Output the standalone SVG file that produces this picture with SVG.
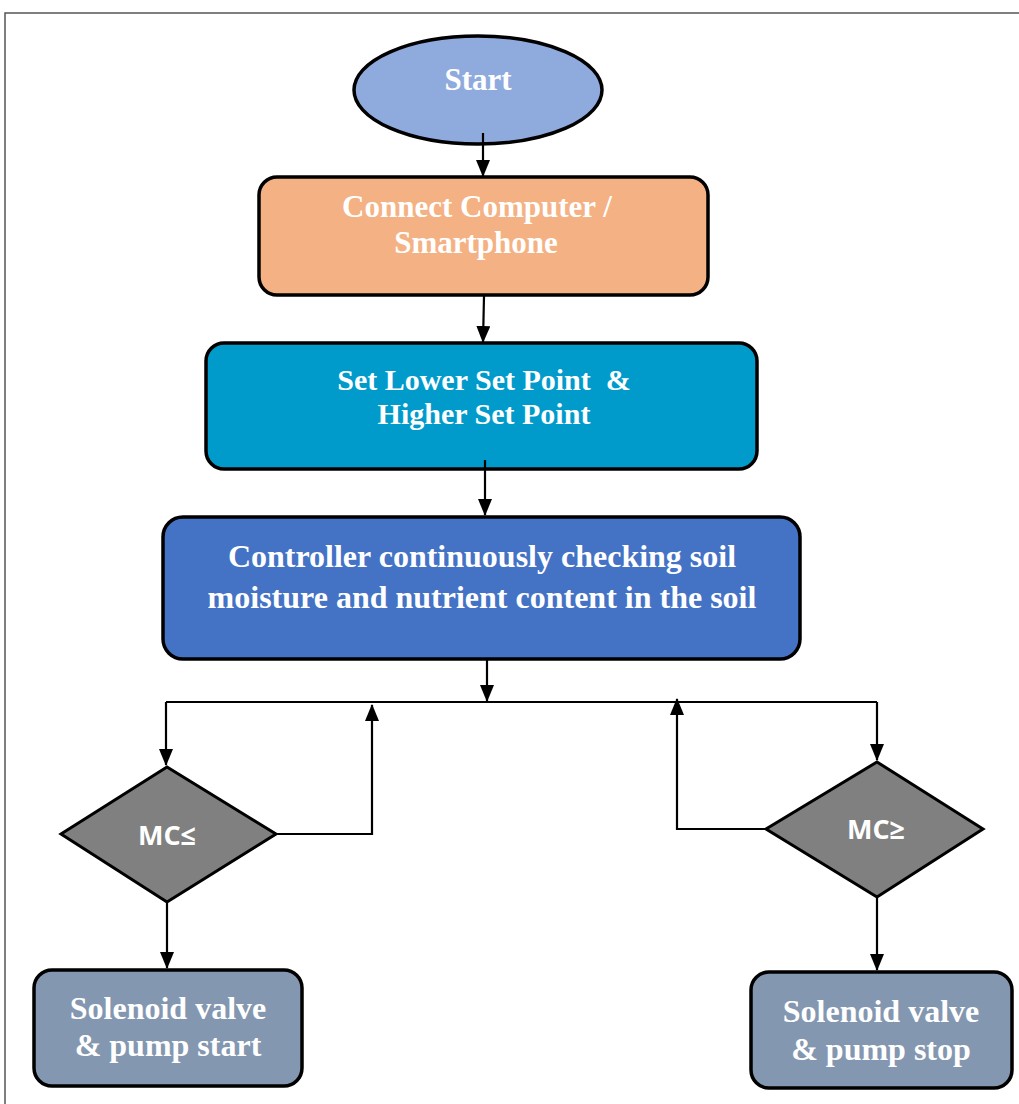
<svg xmlns="http://www.w3.org/2000/svg" width="1019" height="1104" viewBox="0 0 1019 1104">
<defs>
<marker id="ah" markerWidth="17" markerHeight="14" refX="16" refY="7" orient="auto" markerUnits="userSpaceOnUse" viewBox="0 0 17 14">
<path d="M0,0 L17,7 L0,14 Z" fill="#000"/>
</marker>
<style>
.box{stroke:#000;stroke-width:3.5}
.t{font-family:"Liberation Serif","Times New Roman",serif;font-weight:bold;fill:#fff;text-anchor:middle}
.d{font-family:"Open Sans","Liberation Sans",sans-serif;font-weight:bold;fill:#fff;text-anchor:middle;font-size:27px}
.c{stroke:#000;stroke-width:2.2;fill:none}
</style>
</defs>
<rect width="1019" height="1104" fill="#fff"/>
<path d="M5,1104 V13 H1019" stroke="#555" stroke-width="1.5" fill="none"/>
<g id="start">
<ellipse cx="478" cy="90" rx="124" ry="54" fill="#8FAADC" class="box"/>
<text x="478" y="90" class="t" font-size="31">Start</text>
</g>
<g id="connect">
<rect x="259" y="177" width="449" height="118" rx="18" fill="#F4B183" class="box"/>
<text x="477" y="217" class="t" font-size="31">Connect Computer /</text>
<text x="476" y="253" class="t" font-size="31">Smartphone</text>
</g>
<g id="setpoint">
<rect x="206" y="343" width="551" height="126" rx="18" fill="#009BCB" class="box"/>
<text x="484" y="390" class="t" font-size="30" xml:space="preserve">Set Lower Set Point  &amp;</text>
<text x="484" y="424" class="t" font-size="30">Higher Set Point</text>
</g>
<g id="controller">
<rect x="163" y="517" width="637" height="142" rx="20" fill="#4472C4" class="box"/>
<text x="482" y="567" class="t" font-size="32">Controller continuously checking soil</text>
<text x="482" y="608" class="t" font-size="32">moisture and nutrient content in the soil</text>
</g>
<g id="mc-low">
<polygon points="167,767 276,834 167,902 61,834" fill="#808080" stroke="#000" stroke-width="3"/>
<text x="167" y="845" class="d">MC≤</text>
</g>
<g id="mc-high">
<polygon points="877,762 983,829 877,897 766,829" fill="#808080" stroke="#000" stroke-width="3"/>
<text x="876" y="839" class="d">MC≥</text>
</g>
<g id="pump-start">
<rect x="34" y="970" width="268" height="116" rx="18" fill="#8497B0" class="box"/>
<text x="168" y="1019" class="t" font-size="32">Solenoid valve</text>
<text x="168" y="1056" class="t" font-size="32">&amp; pump start</text>
</g>
<g id="pump-stop">
<rect x="751" y="972" width="261" height="116" rx="18" fill="#8497B0" class="box"/>
<text x="881" y="1022" class="t" font-size="32">Solenoid valve</text>
<text x="881" y="1060" class="t" font-size="32">&amp; pump stop</text>
</g>
<g id="connectors">
<line x1="483" y1="133" x2="483" y2="176" class="c" marker-end="url(#ah)"/>
<line x1="484" y1="296" x2="483" y2="342" class="c" marker-end="url(#ah)"/>
<line x1="485" y1="460" x2="485" y2="515" class="c" marker-end="url(#ah)"/>
<line x1="487" y1="660" x2="487" y2="701" class="c" marker-end="url(#ah)"/>
<line x1="166" y1="702" x2="877" y2="702" class="c"/>
<polyline points="166,702 166,765" class="c" marker-end="url(#ah)"/>
<polyline points="877,702 877,760" class="c" marker-end="url(#ah)"/>
<polyline points="276,834 372,834 372,705" class="c" marker-end="url(#ah)"/>
<polyline points="766,829 677,829 677,699" class="c" marker-end="url(#ah)"/>
<line x1="167" y1="903" x2="167" y2="968" class="c" marker-end="url(#ah)"/>
<line x1="877" y1="898" x2="877" y2="970" class="c" marker-end="url(#ah)"/>
</g>
</svg>
